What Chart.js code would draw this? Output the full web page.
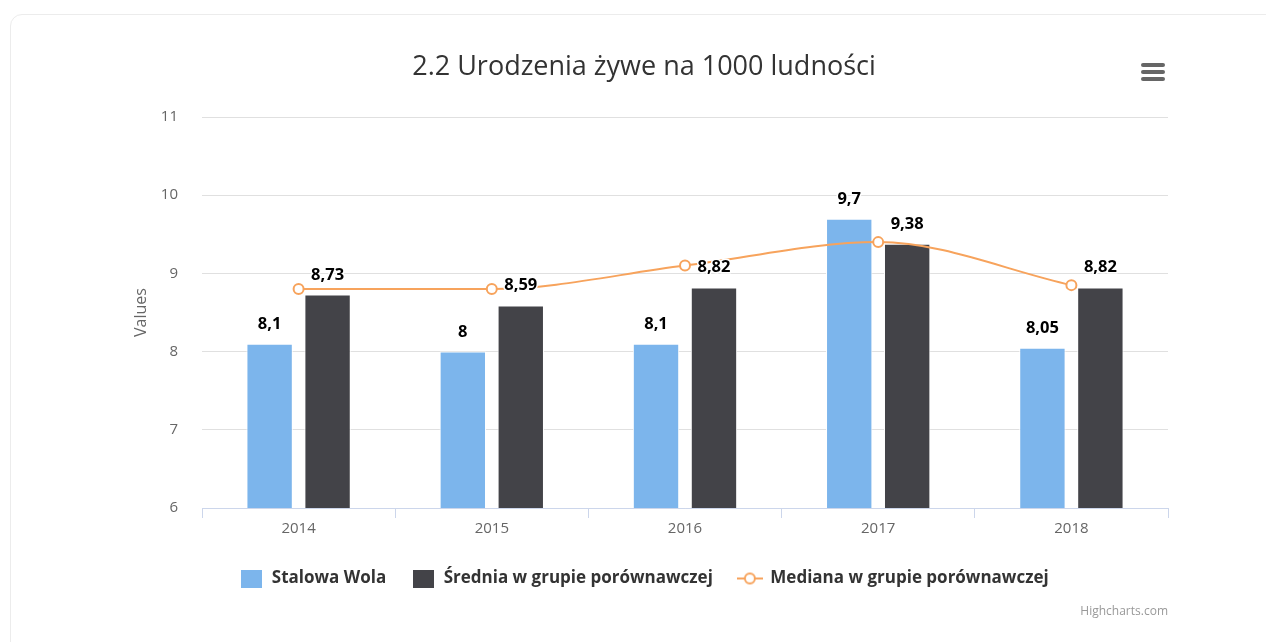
<!DOCTYPE html>
<html lang="pl">
<head>
<meta charset="utf-8">
<title>2.2 Urodzenia żywe na 1000 ludności</title>
<script src="https://cdn.jsdelivr.net/npm/chart.js@4/dist/chart.umd.min.js"></script>
<style>
html,body{margin:0;padding:0;background:#fff;}
#wrap{position:relative;width:1266px;height:642px;overflow:hidden;}
.card{position:absolute;left:10px;top:14px;width:1300px;height:700px;border:1px solid #ececec;border-radius:12px;box-sizing:border-box;}
#chart{position:absolute;left:0;top:0;}
.menu{position:absolute;left:1141px;top:63px;width:24px;}
.menu span{display:block;height:4px;background:#666;border-radius:2px;margin-bottom:3px;}
.credits{position:absolute;right:98px;top:602px;font:12px "Open Sans",sans-serif;color:#999;}
</style>
</head>
<body>
<div id="wrap">
  <div class="card"></div>
  <canvas id="chart" width="1266" height="642"></canvas>
  <div class="menu"><span></span><span></span><span></span></div>
  <div class="credits">Highcharts.com</div>
</div>
<script>
// data
const years = ['2014', '2015', '2016', '2017', '2018'];
const stalowaWola = [8.1, 8, 8.1, 9.7, 8.05];
const srednia = [8.73, 8.59, 8.82, 9.38, 8.82];
const mediana = [8.8, 8.8, 9.1, 9.4, 8.85];
const seriesNames = ['Stalowa Wola', 'Średnia w grupie porównawczej', 'Mediana w grupie porównawczej'];

const BLUE = '#7cb5ec', DARK = '#434348', ORANGE = '#f7a35c';
const FONT = '"Open Sans", "DejaVu Sans", sans-serif';

// legend icons
function swatch(color){
  const c = document.createElement('canvas'); c.width = 21; c.height = 18;
  const g = c.getContext('2d'); g.fillStyle = color; g.fillRect(0, 0, 21, 18);
  return c;
}
function lineSwatch(color){
  const c = document.createElement('canvas'); c.width = 26; c.height = 14;
  const g = c.getContext('2d');
  g.strokeStyle = color; g.lineWidth = 2;
  g.beginPath(); g.moveTo(0, 7); g.lineTo(26, 7); g.stroke();
  g.beginPath(); g.arc(13, 7, 5, 0, Math.PI * 2); g.fillStyle = '#fff'; g.fill(); g.stroke();
  return c;
}
const legendIcons = [swatch(BLUE), swatch(DARK), lineSwatch(ORANGE)];

// value labels above the bars
const valueLabels = {
  id: 'valueLabels',
  afterDatasetsDraw(chart){
    const ctx = chart.ctx;
    ctx.save();
    ctx.font = 'bold 16.5px ' + FONT;
    ctx.textAlign = 'center';
    ctx.textBaseline = 'alphabetic';
    ctx.lineJoin = 'round';
    [0, 1].forEach(i => {
      chart.getDatasetMeta(i).data.forEach((bar, j) => {
        const txt = String(chart.data.datasets[i].data[j]).replace('.', ',');
        const y = bar.y - 15;
        ctx.lineWidth = 3; ctx.strokeStyle = '#fff';
        ctx.strokeText(txt, bar.x, y);
        ctx.fillStyle = '#000';
        ctx.fillText(txt, bar.x, y);
      });
    });
    ctx.restore();
  }
};

new Chart(document.getElementById('chart'), {
  type: 'bar',
  data: {
    labels: years,
    datasets: [
      { label: seriesNames[0], data: stalowaWola, backgroundColor: BLUE, borderColor: '#fff', borderWidth: 1,
        categoryPercentage: 0.6, barPercentage: 0.8 },
      { label: seriesNames[1], data: srednia, backgroundColor: DARK, borderColor: '#fff', borderWidth: 1,
        categoryPercentage: 0.6, barPercentage: 0.8 },
      { type: 'line', label: seriesNames[2], data: mediana, order: -1,
        borderColor: ORANGE, borderWidth: 2, cubicInterpolationMode: 'monotone',
        pointRadius: 5, pointBorderWidth: 2, pointBackgroundColor: '#fff', pointBorderColor: ORANGE }
    ]
  },
  options: {
    responsive: false,
    devicePixelRatio: 1,
    animation: false,
    layout: { padding: { left: 120, right: 98, top: 0, bottom: 45 } },
    plugins: {
      title: { display: true, text: '2.2 Urodzenia żywe na 1000 ludności', color: '#333',
        font: { family: FONT, size: 27, weight: 'normal' }, padding: { top: 51, bottom: 33.6 } },
      legend: {
        position: 'bottom',
        labels: {
          usePointStyle: true, pointStyleWidth: 24, padding: 25, color: '#333',
          font: { family: FONT, size: 17, weight: 'bold' },
          generateLabels: chart => chart.data.datasets.map((ds, i) => ({
            text: ds.label, pointStyle: legendIcons[i], fillStyle: 'transparent',
            strokeStyle: 'transparent', lineWidth: 0, hidden: false, datasetIndex: i, fontColor: '#333'
          }))
        }
      },
      tooltip: { enabled: false }
    },
    scales: {
      x: {
        grid: { offset: true, drawOnChartArea: false, drawTicks: true, tickLength: 10, color: '#ccd6eb' },
        border: { color: '#ccd6eb' },
        ticks: { color: '#666', padding: 2, font: { family: FONT, size: 15 } },
        afterFit: s => { s.height = 37; }
      },
      y: {
        min: 6, max: 11,
        grid: { color: '#e0e0e0', drawTicks: false },
        border: { display: false },
        ticks: { stepSize: 1, color: '#666', padding: 24, font: { family: FONT, size: 15 } },
        title: { display: true, text: 'Values', color: '#666', padding: { top: 12, bottom: 0 },
          font: { family: FONT, size: 16, weight: 'normal' } },
        afterFit: s => { s.width = 82; }
      }
    }
  },
  plugins: [valueLabels]
});
</script>
</body>
</html>
